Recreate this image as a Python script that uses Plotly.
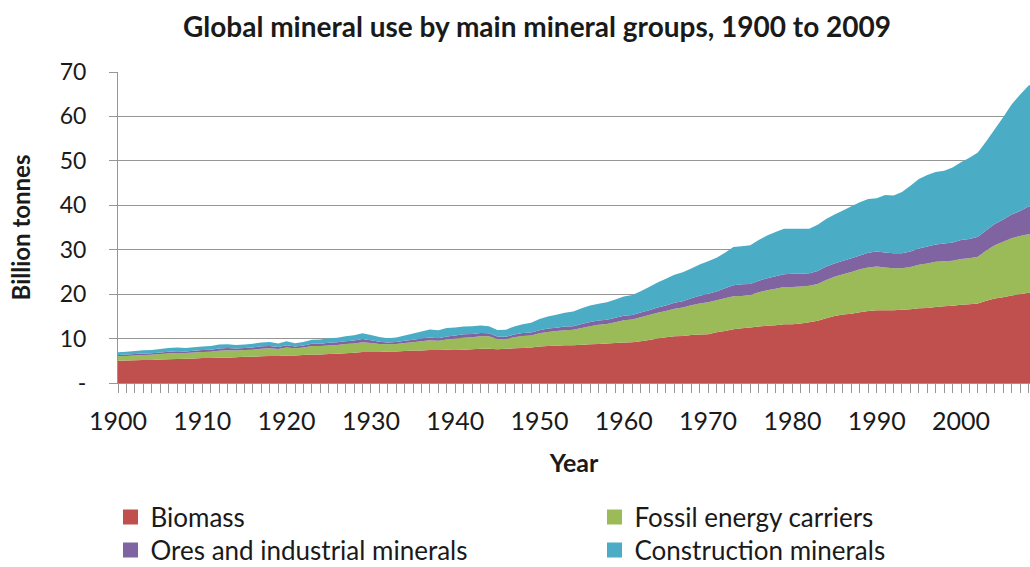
import plotly.graph_objects as go

years = list(range(1900, 2010))

biomass = [
    5.0, 5.05, 5.1, 5.15, 5.2, 5.3, 5.35, 5.4, 5.45, 5.5,
    5.6, 5.6, 5.7, 5.7, 5.8, 5.9, 5.9, 6.0, 6.1, 6.1,
    6.2, 6.2, 6.3, 6.4, 6.4, 6.5, 6.6, 6.7, 6.8, 7.0,
    7.0, 7.0, 7.1, 7.1, 7.2, 7.3, 7.3, 7.4, 7.4, 7.5,
    7.4, 7.5, 7.6, 7.7, 7.7, 7.6, 7.7, 7.8, 7.9, 8.0,
    8.2, 8.3, 8.4, 8.5, 8.5, 8.6, 8.7, 8.8, 8.9, 9.0,
    9.1, 9.2, 9.4, 9.7, 10.0, 10.3, 10.5, 10.6, 10.8, 10.9,
    11.0, 11.4, 11.7, 12.1, 12.3, 12.5, 12.7, 12.9, 13.0, 13.2,
    13.2, 13.4, 13.7, 14.0, 14.6, 15.1, 15.4, 15.6, 15.9, 16.2,
    16.4, 16.4, 16.4, 16.5, 16.6, 16.8, 16.9, 17.1, 17.3, 17.4,
    17.6, 17.7, 17.9, 18.5, 19.0, 19.3, 19.7, 20.0, 20.3, 20.5,
]

fossil = [
    1.0, 1.05, 1.1, 1.15, 1.15, 1.2, 1.3, 1.35, 1.3, 1.35,
    1.4, 1.45, 1.55, 1.65, 1.5, 1.5, 1.6, 1.7, 1.7, 1.55,
    1.8, 1.6, 1.7, 1.9, 1.9, 1.95, 1.95, 2.1, 2.1, 2.2,
    2.0, 1.8, 1.6, 1.7, 1.8, 1.9, 2.1, 2.2, 2.1, 2.3,
    2.6, 2.7, 2.7, 2.8, 2.8, 2.3, 2.2, 2.5, 2.7, 2.7,
    3.0, 3.2, 3.3, 3.4, 3.5, 3.8, 4.1, 4.3, 4.4, 4.7,
    5.0, 5.1, 5.4, 5.6, 5.8, 5.9, 6.2, 6.4, 6.7, 7.0,
    7.2, 7.2, 7.4, 7.4, 7.3, 7.3, 7.7, 8.0, 8.2, 8.4,
    8.4, 8.3, 8.2, 8.3, 8.6, 8.8, 9.1, 9.4, 9.7, 9.8,
    9.8, 9.6, 9.4, 9.3, 9.5, 9.8, 10.0, 10.2, 10.1, 10.1,
    10.3, 10.4, 10.5, 11.3, 12.0, 12.5, 12.9, 13.1, 13.2, 13.1,
]

ores = [
    0.3, 0.3, 0.3, 0.35, 0.35, 0.35, 0.4, 0.4, 0.35, 0.4,
    0.4, 0.45, 0.5, 0.5, 0.45, 0.45, 0.5, 0.55, 0.55, 0.45,
    0.5, 0.4, 0.45, 0.55, 0.55, 0.6, 0.6, 0.6, 0.65, 0.7,
    0.6, 0.5, 0.4, 0.45, 0.5, 0.55, 0.6, 0.65, 0.6, 0.65,
    0.7, 0.75, 0.75, 0.75, 0.7, 0.55, 0.5, 0.6, 0.65, 0.65,
    0.7, 0.75, 0.75, 0.8, 0.8, 0.9, 0.95, 0.95, 0.95, 1.0,
    1.05, 1.0, 1.05, 1.1, 1.2, 1.25, 1.35, 1.4, 1.55, 1.75,
    1.9, 2.0, 2.2, 2.5, 2.6, 2.5, 2.6, 2.7, 2.8, 2.9,
    3.0, 2.9, 2.8, 2.9, 3.0, 3.0, 3.0, 3.1, 3.1, 3.3,
    3.4, 3.4, 3.4, 3.4, 3.5, 3.7, 3.8, 3.9, 4.0, 4.1,
    4.3, 4.3, 4.5, 4.6, 4.8, 5.0, 5.3, 5.6, 6.2, 6.5,
]

construction = [
    0.6, 0.65, 0.7, 0.7, 0.75, 0.8, 0.8, 0.85, 0.8, 0.8,
    0.8, 0.85, 0.9, 0.9, 0.8, 0.8, 0.85, 0.85, 0.9, 0.8,
    0.9, 0.75, 0.8, 0.9, 0.95, 1.0, 1.05, 1.1, 1.2, 1.3,
    1.2, 1.05, 0.95, 1.0, 1.2, 1.4, 1.6, 1.8, 1.8, 1.95,
    1.8, 1.75, 1.7, 1.7, 1.6, 1.5, 1.6, 1.8, 2.0, 2.2,
    2.5, 2.7, 2.9, 3.1, 3.3, 3.5, 3.7, 3.8, 3.9, 4.1,
    4.3, 4.5, 4.8, 5.2, 5.6, 6.0, 6.3, 6.5, 6.7, 7.0,
    7.3, 7.6, 8.0, 8.6, 8.6, 8.7, 9.2, 9.6, 10.0, 10.2,
    10.1, 10.1, 10.0, 10.4, 10.7, 11.0, 11.3, 11.7, 12.0, 12.1,
    12.0, 12.9, 13.0, 13.8, 14.8, 15.6, 16.1, 16.3, 16.4, 16.9,
    17.5, 18.3, 19.0, 20.0, 21.3, 23.0, 24.8, 26.2, 27.2, 27.8,
]

series_names = ["Biomass", "Fossil energy carriers",
                "Ores and industrial minerals", "Construction minerals"]
series_values = [biomass, fossil, ores, construction]
series_colors = ["#C0504D", "#9BBB59", "#8064A2", "#4BACC6"]

decade_ticks = list(range(1900, 2001, 10))
y_ticks = list(range(0, 71, 10))
y_ticktext = ["-"] + [str(v) for v in y_ticks[1:]]

FONT = "Lato"
TXT = "#1a1a1a"
GRID = "#969696"
W, H = 1030, 567
PL, PR, PT, PB = 118, 1030, 72, 383

fig = go.Figure()
for name, vals, col in zip(series_names, series_values, series_colors):
    fig.add_trace(go.Scatter(
        x=years, y=vals, name=name, stackgroup="one", mode="none",
        fillcolor=col, line=dict(width=0), showlegend=False,
    ))

legend_ids = ["legend", "legend2", "legend3", "legend4"]
for name, col, lg in zip(series_names, series_colors, legend_ids):
    fig.add_trace(go.Scatter(
        x=[None], y=[None], name=name, mode="markers",
        marker=dict(symbol="square", size=15, color=col),
        showlegend=True, legend=lg,
    ))

# legend boxes: (left px, centre-y px)
legend_pos = [(110.5, 517), (594.5, 517), (110.5, 550), (594.5, 550)]


def legend_cfg(px, py):
    return dict(
        x=(px - PL) / (PR - PL), xref="paper", xanchor="left",
        y=1 - py / H, yref="container", yanchor="middle",
        orientation="h",
        font=dict(family=FONT, size=26, color=TXT),
        bgcolor="rgba(0,0,0,0)", itemwidth=30, borderwidth=0,
    )


fig.update_layout(
    width=W, height=H,
    margin=dict(l=PL, r=W - PR, t=PT, b=H - PB, autoexpand=False),
    paper_bgcolor="white", plot_bgcolor="white",
    font=dict(family=FONT, color=TXT),
    title=dict(
        text="<b>Global mineral use by main mineral groups, 1900 to 2009</b>",
        x=537 / W, xanchor="center", y=1 - 27 / H, yanchor="middle",
        font=dict(family=FONT, size=28, color=TXT),
    ),
    xaxis=dict(
        range=[1900, 1900 + (PR - PL) / 8.43],
        tickvals=decade_ticks, ticktext=[str(v) for v in decade_ticks],
        ticks="outside", ticklen=9, tickcolor=GRID,
        minor=dict(dtick=1, tick0=1900, ticks="outside", ticklen=9,
                   tickcolor=GRID, showgrid=False),
        showline=True, linecolor=GRID, linewidth=1,
        showgrid=False, zeroline=False,
        tickfont=dict(family=FONT, size=25, color=TXT),
        ticklabelstandoff=7,
        title=dict(text="<b>Year</b>", standoff=20,
                   font=dict(family=FONT, size=25, color=TXT)),
    ),
    yaxis=dict(
        range=[0, 70], tickvals=y_ticks, ticktext=y_ticktext,
        ticks="outside", ticklen=8, tickcolor=GRID,
        showline=True, linecolor=GRID, linewidth=1,
        showgrid=True, gridcolor=GRID, gridwidth=1,
        zeroline=False,
        tickfont=dict(family=FONT, size=23, color=TXT),
        ticklabelstandoff=18,
        title=dict(text="<b>Billion tonnes</b>", standoff=22,
                   font=dict(family=FONT, size=24, color=TXT)),
    ),
    legend=legend_cfg(*legend_pos[0]),
    legend2=legend_cfg(*legend_pos[1]),
    legend3=legend_cfg(*legend_pos[2]),
    legend4=legend_cfg(*legend_pos[3]),
)

fig.write_html(
    "out.html",
    config={"displayModeBar": False},
    post_script="document.body.style.margin='0';document.body.style.overflow='hidden';",
)
